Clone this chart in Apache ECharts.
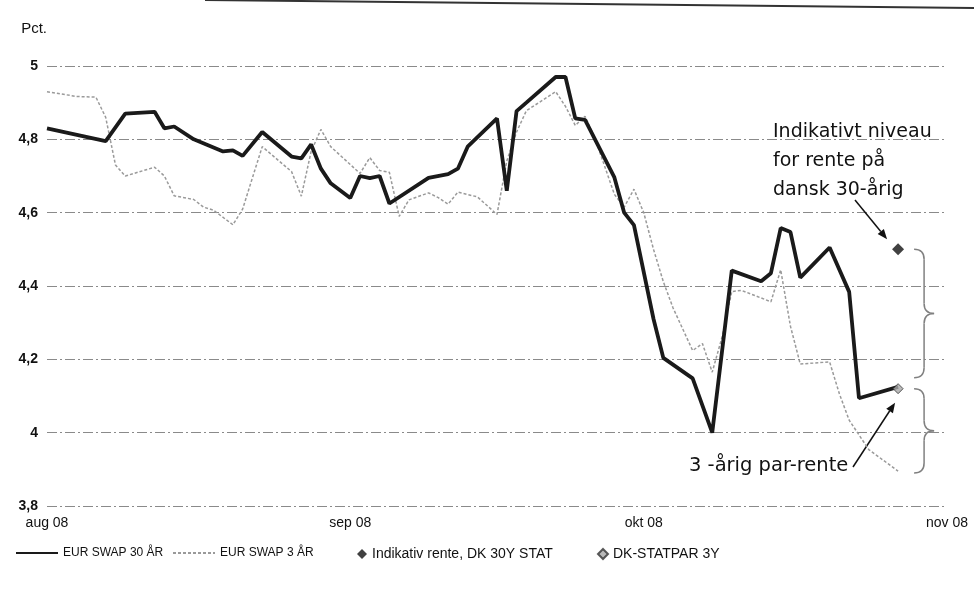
<!DOCTYPE html>
<html>
<head>
<meta charset="utf-8">
<title>EUR swap og dansk rente</title>
<script src="https://cdn.jsdelivr.net/npm/echarts@6/dist/echarts.min.js"></script>
<style>
  html, body { margin: 0; padding: 0; background: #fff; }
  #chart { width: 974px; height: 590px; }
</style>
</head>
<body>
<div id="chart"></div>
<script>
// x axis runs in days counted from 1 aug 2008
const monthDates = ['2008-08-01', '2008-09-01', '2008-10-01', '2008-11-01']
const monthLabels = ['aug 08', 'sep 08', 'okt 08', 'nov 08']

const swap30Dates = ['2008-08-01', '2008-08-07', '2008-08-09', '2008-08-12', '2008-08-13', '2008-08-14',
  '2008-08-16', '2008-08-19', '2008-08-20', '2008-08-21', '2008-08-23', '2008-08-26', '2008-08-27',
  '2008-08-28', '2008-08-29', '2008-08-30', '2008-09-01', '2008-09-02', '2008-09-03', '2008-09-04',
  '2008-09-05', '2008-09-09', '2008-09-11', '2008-09-12', '2008-09-13', '2008-09-16', '2008-09-17',
  '2008-09-18', '2008-09-19', '2008-09-22', '2008-09-23', '2008-09-24', '2008-09-25', '2008-09-28',
  '2008-09-29', '2008-09-30', '2008-10-02', '2008-10-03', '2008-10-06', '2008-10-08', '2008-10-10',
  '2008-10-13', '2008-10-14', '2008-10-15', '2008-10-16', '2008-10-17', '2008-10-20', '2008-10-22',
  '2008-10-23', '2008-10-27']
const swap30 = [4.83, 4.795, 4.87, 4.875, 4.83, 4.835,
  4.80, 4.767, 4.77, 4.755, 4.82, 4.753, 4.748,
  4.786, 4.72, 4.68, 4.64, 4.70, 4.694, 4.70,
  4.625, 4.695, 4.705, 4.72, 4.78, 4.857, 4.66,
  4.877, 4.90, 4.97, 4.97, 4.857, 4.853, 4.696,
  4.60, 4.566, 4.31, 4.204, 4.148, 4.00, 4.442,
  4.413, 4.435, 4.558, 4.547, 4.423, 4.505, 4.384,
  4.094, 4.125]

const swap3Dates = ['2008-08-01', '2008-08-04', '2008-08-06', '2008-08-07', '2008-08-08', '2008-08-09',
  '2008-08-12', '2008-08-13', '2008-08-14', '2008-08-16', '2008-08-17', '2008-08-18', '2008-08-20',
  '2008-08-21', '2008-08-23', '2008-08-26', '2008-08-27', '2008-08-28', '2008-08-29', '2008-08-30',
  '2008-09-02', '2008-09-03', '2008-09-04', '2008-09-05', '2008-09-06', '2008-09-07', '2008-09-09',
  '2008-09-10', '2008-09-11', '2008-09-12', '2008-09-14', '2008-09-16', '2008-09-17', '2008-09-18',
  '2008-09-19', '2008-09-22', '2008-09-23', '2008-09-24', '2008-09-25', '2008-09-26', '2008-09-28',
  '2008-09-29', '2008-09-30', '2008-10-01', '2008-10-02', '2008-10-03', '2008-10-04', '2008-10-06',
  '2008-10-07', '2008-10-08', '2008-10-09', '2008-10-10', '2008-10-11', '2008-10-14', '2008-10-15',
  '2008-10-16', '2008-10-17', '2008-10-20', '2008-10-21', '2008-10-22', '2008-10-24', '2008-10-27']
const swap3 = [4.93, 4.917, 4.915, 4.86, 4.73, 4.70,
  4.724, 4.70, 4.646, 4.636, 4.615, 4.607, 4.567,
  4.61, 4.78, 4.712, 4.645, 4.767, 4.827, 4.78,
  4.707, 4.75, 4.715, 4.71, 4.59, 4.635, 4.654,
  4.641, 4.623, 4.656, 4.643, 4.595, 4.741, 4.82,
  4.878, 4.93, 4.89, 4.838, 4.863, 4.804, 4.65,
  4.615, 4.664, 4.60, 4.50, 4.412, 4.34, 4.224,
  4.243, 4.165, 4.26, 4.385, 4.388, 4.357, 4.444,
  4.29, 4.187, 4.193, 4.106, 4.034, 3.954, 3.895]

const dk30Date = '2008-10-27'
const dk30 = 4.50
const dk3Date = '2008-10-27'
const dk3 = 4.12

// the two curly brackets to the right (top, bottom value)
const braceRanges = [[4.50, 4.15], [4.12, 3.89]]

const names = ['EUR SWAP 30 ÅR', 'EUR SWAP 3 ÅR', 'Indikativ rente, DK 30Y STAT', 'DK-STATPAR 3Y']

function dayNo(s) {
  const p = s.split('-').map(Number)
  return (Date.UTC(p[0], p[1] - 1, p[2]) - Date.UTC(2008, 7, 1)) / 864e5
}

function pairs(dates, vals) {
  return dates.map((d, i) => [dayNo(d), vals[i]])
}

function fmtPct(v) {
  return String(+v.toFixed(1)).replace('.', ',')
}

const monthDays = monthDates.map(dayNo)
const font = 'Liberation Sans, Arial, sans-serif'

const chart = echarts.init(document.getElementById('chart'))

function legendFor(name, left, iconW, isLine) {
  const lg = {
    data: [name],
    left: left,
    top: 542,
    itemWidth: iconW,
    itemHeight: 10,
    selectedMode: false,
    textStyle: { fontFamily: font, fontSize: isLine ? 12 : 14, color: '#111' }
  }
  if (isLine) lg.itemStyle = { opacity: 0 }
  return lg
}

chart.setOption({
  animation: false,
  backgroundColor: '#fff',
  grid: { left: 47, right: 27, top: 66, height: 440 },
  legend: [
    legendFor(names[0], 10, 42, true),
    legendFor(names[1], 167, 42, true),
    legendFor(names[2], 352, 10, false),
    legendFor(names[3], 592, 10, false)
  ],
  xAxis: {
    type: 'value',
    min: 0,
    max: monthDays[monthDays.length - 1],
    splitLine: { show: false },
    axisLine: { show: false },
    axisTick: { show: false },
    axisLabel: {
      customValues: monthDays,
      margin: 10,
      fontFamily: font,
      fontSize: 14,
      color: '#111',
      formatter: v => monthLabels[monthDays.indexOf(v)]
    }
  },
  yAxis: {
    type: 'value',
    min: 3.8,
    max: 5,
    interval: 0.2,
    name: 'Pct.',
    nameGap: 30,
    nameTextStyle: { fontFamily: font, fontSize: 15, color: '#111', align: 'right' },
    axisLine: { show: false },
    axisTick: { show: false },
    axisLabel: {
      margin: 9,
      fontFamily: font,
      fontSize: 14,
      fontWeight: 'bold',
      color: '#111',
      formatter: fmtPct
    },
    splitLine: { lineStyle: { color: '#8a8a8a', width: 1, type: [10, 3, 2, 3] } }
  },
  series: [
    {
      name: names[0],
      type: 'line',
      data: pairs(swap30Dates, swap30),
      symbol: 'none',
      color: '#1a1a1a',
      lineStyle: { color: '#1a1a1a', width: 3.8 },
      z: 3
    },
    {
      name: names[1],
      type: 'line',
      data: pairs(swap3Dates, swap3),
      symbol: 'none',
      color: '#9a9a9a',
      lineStyle: { color: '#9a9a9a', width: 1.5, type: [3, 2] },
      z: 2
    },
    {
      name: names[2],
      type: 'scatter',
      data: [[dayNo(dk30Date), dk30]],
      symbol: 'diamond',
      symbolSize: 12,
      itemStyle: { color: '#111' },
      z: 5
    },
    {
      name: names[3],
      type: 'scatter',
      data: [[dayNo(dk3Date), dk3]],
      symbol: 'diamond',
      symbolSize: 10,
      itemStyle: { color: '#a8a8a8', borderColor: '#333', borderWidth: 1 },
      z: 5
    }
  ]
})

function arrow(x1, y1, x2, y2) {
  const a = Math.atan2(y2 - y1, x2 - x1)
  const len = 10, w = 4
  const bx = x2 - len * Math.cos(a), by = y2 - len * Math.sin(a)
  return [
    { type: 'line', shape: { x1: x1, y1: y1, x2: bx, y2: by }, style: { stroke: '#111', lineWidth: 1.5 } },
    {
      type: 'polygon',
      shape: { points: [[x2, y2], [bx + w * Math.sin(a), by - w * Math.cos(a)], [bx - w * Math.sin(a), by + w * Math.cos(a)]] },
      style: { fill: '#111' }
    }
  ]
}

// right-pointing curly bracket made of quadratic curves and straight parts
function brace(x, yTop, yBot, w) {
  const m = (yTop + yBot) / 2, h = w / 2, r = Math.min(10, (yBot - yTop) / 4)
  const st = { stroke: '#808080', lineWidth: 1.5, fill: null }
  const curve = (x1, y1, x2, y2, cx, cy) =>
    ({ type: 'bezierCurve', shape: { x1: x1, y1: y1, x2: x2, y2: y2, cpx1: cx, cpy1: cy }, style: st })
  const seg = (x1, y1, x2, y2) => ({ type: 'line', shape: { x1: x1, y1: y1, x2: x2, y2: y2 }, style: st })
  return [
    curve(x, yTop, x + h, yTop + r, x + h, yTop),
    seg(x + h, yTop + r, x + h, m - r),
    curve(x + h, m - r, x + w, m, x + h, m),
    curve(x + w, m, x + h, m + r, x + h, m),
    seg(x + h, m + r, x + h, yBot - r),
    curve(x + h, yBot - r, x, yBot, x + h, yBot)
  ]
}

const m30 = chart.convertToPixel({ seriesIndex: 2 }, [dayNo(dk30Date), dk30])
const m3 = chart.convertToPixel({ seriesIndex: 3 }, [dayNo(dk3Date), dk3])
const braceX = m30[0] + 16

const annoFont = '19px DejaVu Sans, sans-serif'
let graphics = [
  // page edge from the scan
  { type: 'line', shape: { x1: 205, y1: 0, x2: 974, y2: 8 }, style: { stroke: '#333', lineWidth: 2 } },
  {
    type: 'text', x: 773, y: 118,
    style: { text: 'Indikativt niveau\nfor rente på\ndansk 30-årig', font: annoFont, lineHeight: 29, fill: '#111' }
  },
  {
    type: 'text', x: 689, y: 456,
    style: { text: '3 -årig par-rente', font: '19.5px DejaVu Sans, sans-serif', fill: '#111' }
  }
]
graphics = graphics.concat(arrow(855, 200, m30[0] - 11, m30[1] - 10))
graphics = graphics.concat(arrow(853, 467, m3[0] - 3, m3[1] + 14))
braceRanges.forEach(r => {
  const top = chart.convertToPixel({ yAxisIndex: 0 }, r[0])
  const bot = chart.convertToPixel({ yAxisIndex: 0 }, r[1])
  graphics = graphics.concat(brace(braceX, top, bot, 20))
})

chart.setOption({ graphic: graphics })
</script>
</body>
</html>
